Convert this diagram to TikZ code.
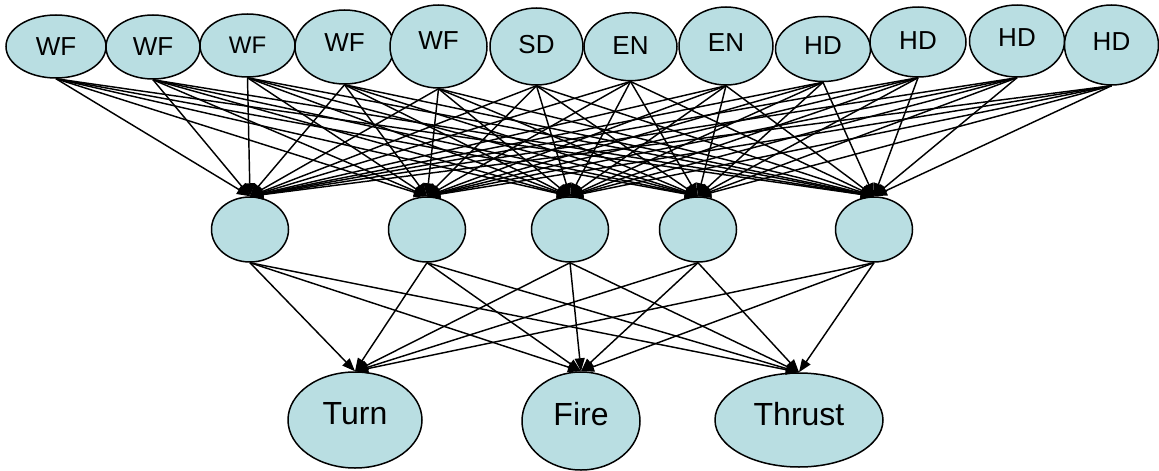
\documentclass[tikz,border=0pt]{standalone}
\usepackage{fontspec}
\setmainfont{Liberation Sans}
\usetikzlibrary{shapes.geometric,arrows.meta}
\definecolor{nodefill}{RGB}{185,222,226}
\tikzset{
  unit/.style={ellipse, draw=black, fill=nodefill, line width=1.5pt, inner sep=0pt},
  toptext/.style={font=\fontsize{26}{31}\selectfont},
  bottext/.style={font=\fontsize{32}{38}\selectfont},
  edge/.style={line width=1.45pt, -{Triangle[length=13pt,width=10pt]}}
}
\newcommand{\up}[2]{\raisebox{#1pt}{#2}}
\begin{document}
\begin{tikzpicture}[x=1pt,y=-1pt]
\useasboundingbox (0,0) rectangle (1159,471);
% top row
\node[unit,toptext,minimum width=100pt,minimum height=63pt] (wf1) at (56,46.5) {WF};
\node[unit,toptext,minimum width=94pt,minimum height=64pt] (wf2) at (153,47) {WF};
\node[unit,font=\fontsize{24}{29}\selectfont,minimum width=95pt,minimum height=63pt] (wf3) at (247.5,45.5) {WF};
\node[unit,toptext,minimum width=99pt,minimum height=74pt] (wf4) at (344.5,47) {\up{8}{WF}};
\node[unit,toptext,minimum width=97pt,minimum height=83pt] (wf5) at (438.5,46.5) {\up{12}{WF}};
\node[unit,toptext,minimum width=93pt,minimum height=77pt] (sd) at (536.5,46.5) {\up{5}{SD}};
\node[unit,toptext,minimum width=93pt,minimum height=68pt] (en1) at (630.5,46.7) {\up{2}{EN}};
\node[unit,toptext,minimum width=94pt,minimum height=78pt] (en2) at (726,46) {\up{6}{EN}};
\node[unit,toptext,minimum width=95pt,minimum height=65pt] (hd1) at (823,49) {\up{7}{HD}};
\node[unit,toptext,minimum width=96pt,minimum height=70pt] (hd2) at (918,42) {\up{3}{HD}};
\node[unit,toptext,minimum width=95pt,minimum height=72pt] (hd3) at (1017,41) {\up{6}{HD}};
\node[unit,toptext,minimum width=94pt,minimum height=80pt] (hd4) at (1111.5,45) {\up{6}{HD}};
% middle row
\foreach \n/\x in {m1/250,m2/427,m3/570,m4/698,m5/874}
  \node[unit,minimum width=77pt,minimum height=65pt] (\n) at (\x,229.5) {};
% bottom row
\node[unit,bottext,minimum width=134pt,minimum height=96pt] (turn) at (355,420) {\up{14}{Turn}};
\node[unit,bottext,minimum width=118pt,minimum height=98pt] (fire) at (581,421) {\up{14}{Fire}};
\node[unit,bottext,minimum width=168pt,minimum height=94pt] (thrust) at (799,420) {\up{12}{Thrust}};
% connectors
\foreach \a in {wf1,wf2,wf3,wf4,wf5,sd,en1,en2,hd1,hd2,hd3,hd4}
  \foreach \b in {m1,m2,m3,m4,m5}
    \draw[edge] (\a.south) -- (\b.north);
\foreach \a in {m1,m2,m3,m4,m5}
  \foreach \b in {turn,fire,thrust}
    \draw[edge] (\a.south) -- (\b.north);
\end{tikzpicture}
\end{document}
